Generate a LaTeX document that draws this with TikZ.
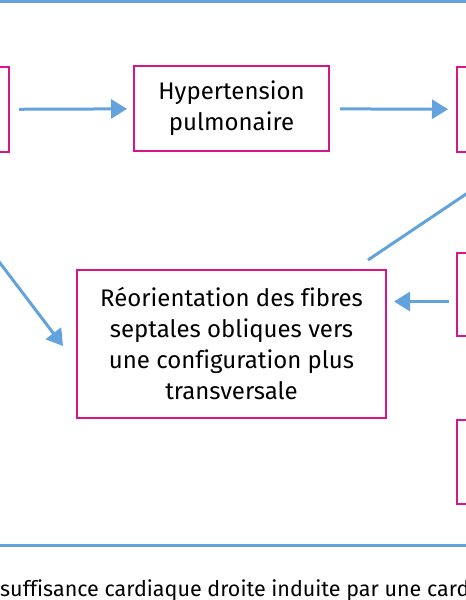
\documentclass[tikz,border=0pt]{standalone}
\usepackage{fontspec}
\setmainfont[Ligatures=CommonOff]{Fira Sans}
\usetikzlibrary{arrows.meta}
\definecolor{fblue}{RGB}{98,163,221}
\definecolor{fmag}{RGB}{214,22,140}
\tikzset{
  box/.style={draw=fmag, line width=2pt, align=center, inner sep=0pt, font=\fontsize{24}{31}\selectfont},
  arr/.style={draw=fblue, line width=3pt, -{Triangle[length=16pt,width=19pt]}},
  frame/.style={draw=fblue, line width=3pt}
}
\begin{document}
\begin{tikzpicture}[x=1pt,y=-1pt]
\useasboundingbox (0,0) rectangle (466,600);
\clip (0,0) rectangle (466,600);
\draw[frame] (-10,1.5) rectangle (476,545);
\node[box, anchor=north east, minimum width=110pt, minimum height=85pt] (L1) at (10,66) {};
\node[box, minimum width=195pt, minimum height=85pt] (H) at (231.5,108.5) {Hypertension\\pulmonaire};
\node[box, anchor=north west, minimum width=110pt, minimum height=85pt] (R1) at (456,66) {};
\node[box, minimum width=309pt, minimum height=148pt] (Reo) at (231.5,344) {Réorientation des fibres\\septales obliques vers\\une configuration plus\\transversale};
\node[box, anchor=north west, minimum width=110pt, minimum height=83pt] (R2) at (456,252) {};
\node[box, anchor=north west, minimum width=110pt, minimum height=84pt] (R3) at (456,419) {};
\draw[arr, shorten <=9pt, shorten >=6pt] (L1) -- (H);
\draw[arr, shorten <=10pt, shorten >=8pt] (H) -- (R1);
\coordinate (a) at ([yshift=-7pt]R2.west);
\draw[arr, shorten <=7pt, shorten >=7pt] (a) -- (Reo.east |- a);
\coordinate (d1) at (368,260);
\coordinate (d2) at (545,141);
\draw[arr] (d1) -- (d2);
\coordinate (l1) at (-85,151);
\coordinate (l2) at (63,346);
\draw[arr] (l1) -- (l2);
\node[anchor=base west, inner sep=0pt, font=\fontsize{21.5}{25}\selectfont] (cap) at (0,596) {suffisance cardiaque droite induite par une card};
\end{tikzpicture}
\end{document}
